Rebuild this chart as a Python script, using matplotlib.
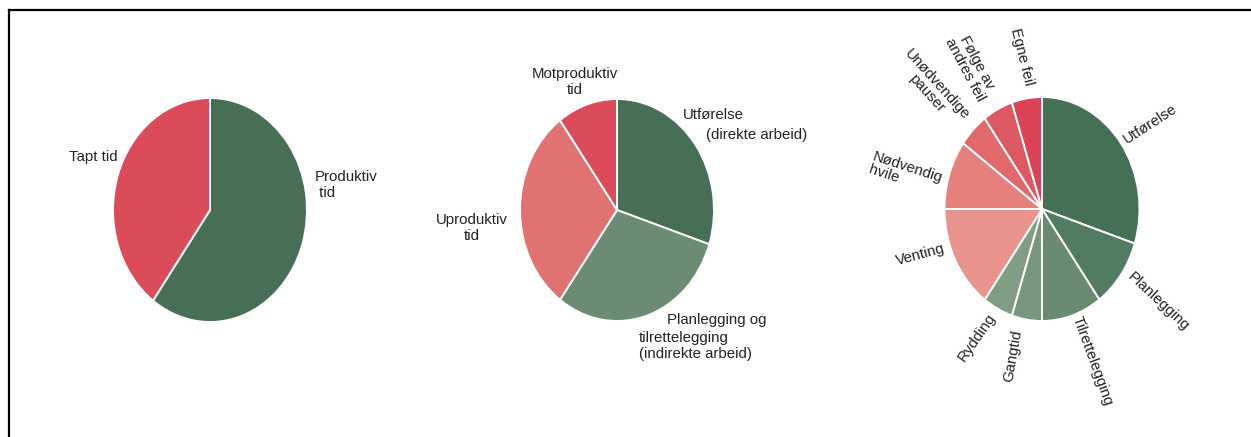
import matplotlib
matplotlib.use("Agg")
import matplotlib.pyplot as plt
from matplotlib.lines import Line2D

# ---------------- data ----------------
pie1_labels = ["Produktiv\n tid", "Tapt tid"]
pie1_values = [60, 40]
pie1_colors = ["#466F56", "#DC4B5A"]

pie2_labels = ["Utførelse", "Planlegging og", "Uproduktiv\ntid", "Motproduktiv\ntid"]
pie2_values = [30, 30, 30, 10]
pie2_colors = ["#466F56", "#6C8B73", "#E07272", "#DC4B5A"]

pie3_labels = ["Utførelse", "Planlegging", "Tilrettelegging", "Gangtid", "Rydding",
               "Venting", "Nødvendig\nhvile", "Unødvendige\npauser",
               "Følge av\nandres feil", "Egne feil"]
pie3_values = [30, 10, 10, 5, 5, 15, 10, 5, 5, 5]
pie3_colors = ["#467055", "#527C61", "#698A70", "#78967D", "#819E85",
               "#E8948C", "#E5807D", "#E1696C", "#DE5862", "#DB4456"]

# ---------------- layout ----------------
W, H = 1251, 437
DPI = 100
plt.rcParams["font.family"] = ["Liberation Sans", "DejaVu Sans"]
FS = 10.8
TC = "#222222"

fig = plt.figure(figsize=(W / DPI, H / DPI), dpi=DPI)
fig.patch.set_facecolor("white")

L = 1.8
wedge_kw = dict(edgecolor="white", linewidth=1.4)


def make_pie(cx, cy, rx, ry, values, colors):
    w = 2 * L * rx
    h = 2 * L * ry
    left = cx - w / 2
    bottom = (H - cy) - h / 2
    ax = fig.add_axes([left / W, bottom / H, w / W, h / H])
    ax.pie(values, colors=colors, startangle=90, counterclock=False,
           radius=1, wedgeprops=wedge_kw)
    ax.set_aspect("auto")
    ax.set_xlim(-L, L)
    ax.set_ylim(-L, L)
    ax.axis("off")
    return ax


def put(ax, cx, cy, rx, ry, px, py, s, **kw):
    x = (px - cx) / rx
    y = (cy - py) / ry
    ax.text(x, y, s, fontsize=FS, color=TC, clip_on=False, **kw)


# ---- pie 1 ----
c1 = (210, 210, 97, 112)
ax1 = make_pie(*c1, pie1_values, pie1_colors)
put(ax1, *c1, 315, 185, pie1_labels[0], ha="left", va="center", linespacing=1.1)
put(ax1, *c1, 118, 157, pie1_labels[1], ha="right", va="center")

# ---- pie 2 ----
c2 = (617, 210, 97, 111)
ax2 = make_pie(*c2, pie2_values, pie2_colors)
put(ax2, *c2, 683, 115, pie2_labels[0], ha="left", va="center")
put(ax2, *c2, 706, 135, "(direkte arbeid)", ha="left", va="center")
put(ax2, *c2, 667, 320, pie2_labels[1], ha="left", va="center")
put(ax2, *c2, 639, 346, "tilrettelegging\n(indirekte arbeid)", ha="left", va="center",
    linespacing=1.12)
put(ax2, *c2, 472, 228, pie2_labels[2], ha="center", va="center", linespacing=1.12)
put(ax2, *c2, 575, 82, pie2_labels[3], ha="center", va="center", linespacing=1.12)

# ---- pie 3 ----
c3 = (1042, 209, 97.5, 112)
ax3 = make_pie(*c3, pie3_values, pie3_colors)

p3_pos = [(1150, 124, 33, "center"),
          (1158, 302, -43, "center"),
          (1092, 361, -70, "center"),
          (1013, 356, 80, "center"),
          (977, 337, 55, "center"),
          (920, 255, 15, "center"),
          (871, 163, -18, "left"),
          (932, 89, -48, "center"),
          (971, 66, -62, "center"),
          (1022, 57, -76, "center")]
for lab, (px, py, rot, ha) in zip(pie3_labels, p3_pos):
    put(ax3, *c3, px, py, lab, ha=ha, va="center", rotation=rot,
        rotation_mode="anchor", multialignment=ha, linespacing=1.0)

# ---- frame lines (top and left) ----
fig.add_artist(Line2D([9 / W, 1.0], [1 - 10 / H, 1 - 10 / H],
                      transform=fig.transFigure, color="black", linewidth=1.6))
fig.add_artist(Line2D([9 / W, 9 / W], [0, 1 - 10 / H],
                      transform=fig.transFigure, color="black", linewidth=1.6))

fig.savefig("out.png", dpi=DPI, facecolor="white")
